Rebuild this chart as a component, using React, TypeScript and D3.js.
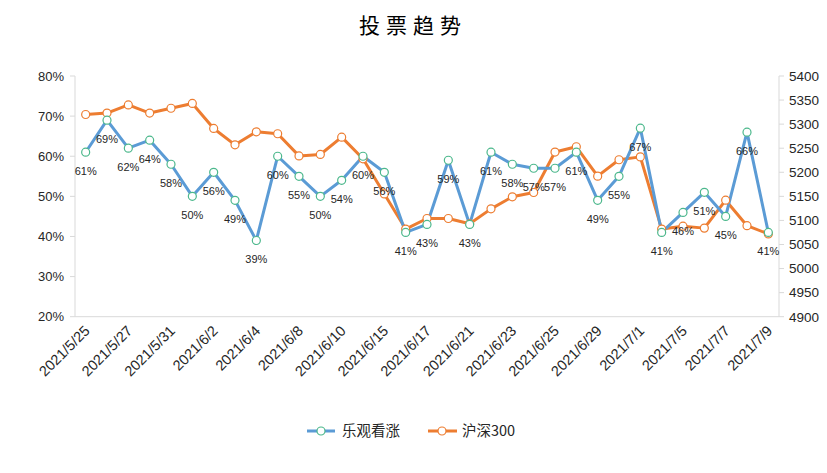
import React from "react";
import * as d3 from "d3";

const dates = [
  "2021/5/25", "2021/5/26", "2021/5/27", "2021/5/28", "2021/5/31", "2021/6/1", "2021/6/2", "2021/6/3",
  "2021/6/4", "2021/6/7", "2021/6/8", "2021/6/9", "2021/6/10", "2021/6/11", "2021/6/15", "2021/6/16",
  "2021/6/17", "2021/6/18", "2021/6/21", "2021/6/22", "2021/6/23", "2021/6/24", "2021/6/25", "2021/6/28",
  "2021/6/29", "2021/6/30", "2021/7/1", "2021/7/2", "2021/7/5", "2021/7/6", "2021/7/7", "2021/7/8", "2021/7/9",
];

const bullish = [
  61, 69, 62, 64, 58, 50, 56, 49, 39, 60, 55, 50, 54, 60, 56, 41, 43,
  59, 43, 61, 58, 57, 57, 61, 49, 55, 67, 41, 46, 51, 45, 66, 41,
];

const hs300 = [
  5320, 5323, 5340, 5323, 5333, 5343, 5291, 5257, 5284, 5280, 5234, 5237, 5273, 5228, 5155, 5082, 5104,
  5104, 5093, 5124, 5149, 5158, 5242, 5253, 5192, 5226, 5232, 5082, 5088, 5084, 5142, 5089, 5072,
];

const leftTicks = [20, 30, 40, 50, 60, 70, 80];
const rightTicks = [4900, 4950, 5000, 5050, 5100, 5150, 5200, 5250, 5300, 5350, 5400];

const seriesNames = ["乐观看涨", "沪深300"];
const title = "投票趋势";

const W = 827;
const H = 473;
const plot = { left: 75, right: 779, top: 76, bottom: 316.7 };

const BLUE = "#5b9bd5";
const ORANGE = "#ed7d31";
const GREEN = "#4cb88c";
const AXIS = "#d9d9d9";
const TEXT = "#262626";
const FONT = "'Liberation Sans', Arial, 'Noto Sans CJK SC', sans-serif";

export default function App() {
  const x = d3.scaleBand<string>().domain(dates).range([plot.left, plot.right]);
  const cx = (d: string) => (x(d) as number) + x.bandwidth() / 2;
  const yL = d3.scaleLinear().domain([20, 80]).range([plot.bottom, plot.top]);
  const yR = d3.scaleLinear().domain([4900, 5400]).range([plot.bottom, plot.top]);

  const lineB = d3.line<number>().x((_, i) => cx(dates[i])).y((v) => yL(v));
  const lineO = d3.line<number>().x((_, i) => cx(dates[i])).y((v) => yR(v));

  const labelDates = dates.filter((_, i) => i % 2 === 0);

  return (
    <svg width={W} height={H} style={{ position: "absolute", left: 0, top: 0, background: "#fff" }}>
      <rect x={0} y={0} width={W} height={H} fill="#fff" />
      <text x={413} y={33} textAnchor="middle" fontSize={21} letterSpacing={6}
        fontFamily="'Noto Sans CJK SC', sans-serif" fill="#000">{title}</text>

      {/* axes */}
      <line x1={plot.left} x2={plot.left} y1={plot.top} y2={plot.bottom} stroke={AXIS} strokeWidth={1} />
      <line x1={plot.right} x2={plot.right} y1={plot.top} y2={plot.bottom} stroke={AXIS} strokeWidth={1} />
      <line x1={plot.left} x2={plot.right} y1={plot.bottom} y2={plot.bottom} stroke={AXIS} strokeWidth={1} />
      {leftTicks.map((t) => (
        <g key={"l" + t}>
          <line x1={plot.left - 5} x2={plot.left} y1={yL(t)} y2={yL(t)} stroke={AXIS} />
          <text x={64} y={yL(t)} dy="0.36em" textAnchor="end" fontSize={13} fontFamily={FONT} fill={TEXT}>{t}%</text>
        </g>
      ))}
      {rightTicks.map((t) => (
        <g key={"r" + t}>
          <line x1={plot.right} x2={plot.right + 5} y1={yR(t)} y2={yR(t)} stroke={AXIS} />
          <text x={789} y={yR(t)} dy="0.36em" textAnchor="start" fontSize={13.5} fontFamily={FONT} fill={TEXT}>{t}</text>
        </g>
      ))}
      {labelDates.map((d) => (
        <text key={d} transform={`translate(${cx(d) + 5},${plot.bottom + 15}) rotate(-45)`}
          textAnchor="end" fontSize={14.5} fontFamily={FONT} fill={TEXT}>{d}</text>
      ))}

      {/* lines */}
      <path d={lineO(hs300) || ""} fill="none" stroke={ORANGE} strokeWidth={3} strokeLinejoin="round" />
      <path d={lineB(bullish) || ""} fill="none" stroke={BLUE} strokeWidth={3} strokeLinejoin="round" />
      {hs300.map((v, i) => (
        <circle key={"o" + i} cx={cx(dates[i])} cy={yR(v)} r={4} fill="#fff" stroke={ORANGE} strokeWidth={1.2} />
      ))}
      {bullish.map((v, i) => (
        <circle key={"b" + i} cx={cx(dates[i])} cy={yL(v)} r={4} fill="#fff" stroke={GREEN} strokeWidth={1.2} />
      ))}
      {bullish.map((v, i) => (
        <text key={"t" + i} x={cx(dates[i])} y={yL(v) + 19} dy="0.36em" textAnchor="middle"
          fontSize={11} fontFamily={FONT} fill={TEXT}>{v}%</text>
      ))}

      {/* legend */}
      <g>
        <line x1={307} x2={335} y1={431} y2={431} stroke={BLUE} strokeWidth={3} />
        <circle cx={321} cy={431} r={4} fill="#fff" stroke={GREEN} strokeWidth={1.2} />
        <text x={342} y={431} dy="0.36em" fontSize={14.5} fontFamily="'Noto Sans CJK SC', sans-serif" fill={TEXT}>{seriesNames[0]}</text>
        <line x1={428} x2={457} y1={431} y2={431} stroke={ORANGE} strokeWidth={3} />
        <circle cx={442} cy={431} r={4} fill="#fff" stroke={ORANGE} strokeWidth={1.2} />
        <text x={462} y={431} dy="0.36em" fontSize={14.5} fontFamily="'Noto Sans CJK SC', sans-serif" fill={TEXT}>{seriesNames[1]}</text>
      </g>
    </svg>
  );
}
